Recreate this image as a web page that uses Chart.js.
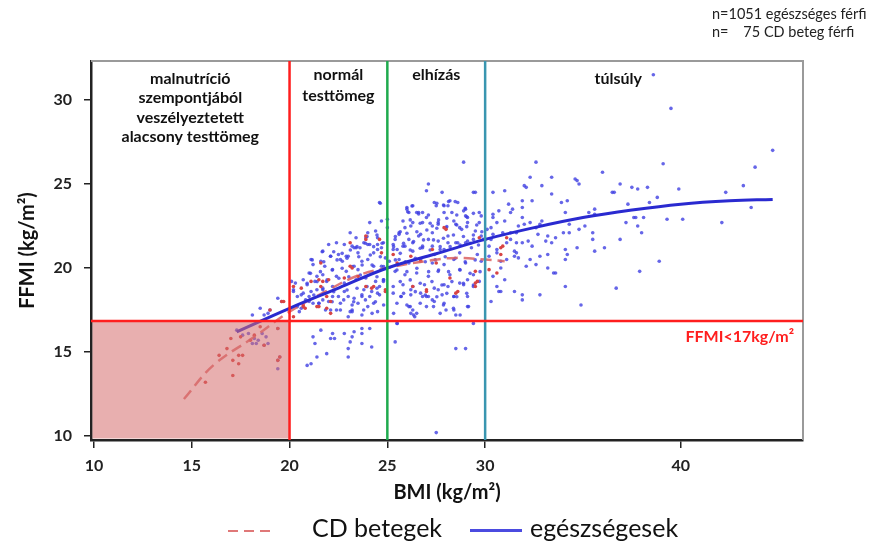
<!DOCTYPE html>
<html>
<head>
<meta charset="utf-8">
<script src="https://cdn.jsdelivr.net/npm/chart.js@4.4.1/dist/chart.umd.min.js"></script>
<style>
  html, body { margin: 0; padding: 0; background: #fff; }
  #wrap { position: relative; width: 873px; height: 549px; font-family: Lato, "Open Sans", sans-serif; color: #222; }
  #chart { position: absolute; left: 0; top: 0; }
  .note { position: absolute; left: 712px; top: 5px; font-size: 14.5px; line-height: 18px; white-space: pre; }
  .lg-line { position: absolute; height: 2px; }
  .lg-text { position: absolute; top: 512px; font-size: 25px; line-height: 30px; color: #111; }
</style>
</head>
<body>
<div id="wrap">
  <canvas id="chart" width="873" height="549"></canvas>
  <div class="note">n=1051 egészséges férfi
n=    75 CD beteg férfi</div>
  <div class="lg-line" id="lgCd" style="left:228px;top:530px;width:46px;"></div>
  <div class="lg-text" style="left:312px;">CD betegek</div>
  <div class="lg-line" id="lgHealthy" style="left:470px;top:529px;width:52px;height:3px;"></div>
  <div class="lg-text" style="left:530px;">egészségesek</div>
</div>
<script>
// ── axis ticks / cut-offs ─────────────────────────────
const X_TICKS = [10, 15, 20, 25, 30, 40];
const Y_TICKS = [10, 15, 20, 25, 30];
const BMI_CUTS = [20, 25, 30];
const FFMI_CUT = 16.85;

// ── region labels ─────────────────────────────────────
const LOW_LABEL = ['malnutríció', 'szempontjából', 'veszélyeztetett', 'alacsony testtömeg'];
const NORMAL_LABEL = ['normál', 'testtömeg'];
const OBESE_LABEL = 'elhízás';
const OVER_LABEL = 'túlsúly';
const CUT_LABEL = 'FFMI<17kg/m²';

// ── fitted curves [BMI, FFMI] ─────────────────────────
const HEALTHY_FIT = [
  [17.3, 16.2], [20, 17.6], [22.5, 18.8], [25, 20.0], [27.5, 20.85], [30, 21.7],
  [32.5, 22.4], [35, 23.0], [37.5, 23.45], [40, 23.8], [42.5, 24.0], [44.7, 24.08],
];
const CD_FIT = [
  [14.6, 12.2], [16.1, 14.2], [18.2, 15.9], [20, 17.4], [22, 18.7], [23.5, 19.55],
  [25, 20.0], [27.2, 20.45], [28.5, 20.6], [30, 20.5], [31, 20.4],
];

// ── individual measurements [BMI, FFMI] ───────────────
const CD_POINTS = [
  [16.4,14.8],[16.8,15.2],[17.1,14.5],[17.1,13.6],[17.4,14.3],[17.6,14.8],[15.7,13.2],[17.0,15.8],
  [17.5,15.9],[18.0,15.7],[18.7,15.4],[18.5,16.5],[19.4,14.5],[19.5,14.7],[19.4,16.4],[19.0,17.5],
  [19.6,18.0],[18.2,16.0],[17.4,14.8],[23.9,21.9],[23.9,21.7],[24.7,20.9],[23.2,20.0],[21.7,19.2],
  [21.9,18.3],[21.5,17.7],[22.1,18.0],[21.9,17.6],[19.7,18.0],[20.2,18.9],[20.6,18.8],[20.2,17.1],
  [20.7,17.8],[23.9,18.9],[24.3,18.9],[24.9,18.6],[26.3,18.9],[27.0,18.6],[28.0,22.3],[28.5,18.5],
  [28.2,19.4],[29.5,19.8],[29.6,19.2],[29.5,18.9],[29.7,21.8],[23.1,20.1],[21.6,20.3],[21.6,18.9],
  [21.1,19.2],[24.6,21.7],[22.8,19.4],[23.5,19.5],[25.5,20.3],[26.7,20.4],[30.2,19.9],[30.8,20.8],
  [30.9,21.3],[30.6,19.7],[30.0,21.7],[30.8,21.2],[31.1,21.8],[21.5,19.3],[22.0,19.3],[20.7,17.7],
  [22.1,17.3],[29.5,19.1],[23.1,21.5],[27.3,21.1],[27.5,20.3],[27.9,22.4],[20.8,17.6],[21.4,17.7],
  [24.9,18.7],[24.2,18.8],[27.0,18.7],[28.6,18.6],[25.3,20.8],[26.2,20.7],
];
const HEALTHY_POINTS = [
  [38.6,31.5],[39.5,29.5],[44.7,27.0],[43.8,26.0],[43.2,24.9],[42.3,24.5],[43.6,23.6],[42.1,22.7],
  [40.1,22.9],[39.3,22.9],[39.1,26.2],[39.9,24.7],[38.8,24.2],[38.4,23.9],[38.3,24.8],[37.8,24.7],
  [37.5,24.8],[36.9,25.0],[36.6,24.5],[37.3,23.8],[36.0,25.7],[37.6,23.0],[38.1,23.0],[37.2,22.7],
  [37.8,22.5],[38.0,22.1],[36.9,21.7],[38.9,20.4],[37.9,19.8],[36.7,18.8],[36.1,21.2],[35.6,21.0],
  [35.5,22.1],[35.6,23.2],[35.3,23.3],[34.7,21.2],[34.7,25.2],[34.8,25.0],[33.4,25.4],[32.6,26.3],
  [32.3,25.4],[32.1,24.8],[32.9,24.9],[34.1,18.9],[33.6,19.7],[33.2,20.0],[32.8,18.4],[31.9,18.4],
  [31.5,18.6],[31.0,19.3],[30.7,18.6],[28.9,26.3],[29.5,24.5],[34.9,17.8],[31.9,18.1],[30.3,18.0],
  [30.8,18.6],[30.6,18.9],[30.4,24.5],[31.0,24.6],[32.0,24.9],[34.6,25.3],[31.2,23.8],[31.4,23.5],
  [31.9,24.0],[32.4,24.0],[33.4,24.4],[33.9,23.9],[34.2,24.0],[34.1,23.3],[35.6,23.5],[36.5,24.5],
  [37.7,23.0],[35.5,21.7],[35.1,22.5],[34.8,22.3],[34.3,22.1],[34.0,22.1],[34.3,22.6],[34.1,21.1],
  [34.2,20.8],[34.1,20.5],[33.5,19.7],[33.2,20.8],[33.4,21.5],[33.2,21.9],[33.6,21.8],[33.1,21.6],
  [32.7,22.0],[32.8,22.6],[32.9,22.8],[32.6,22.4],[32.3,22.7],[32.2,21.6],[32.4,21.3],[32.8,20.7],
  [32.6,20.2],[32.3,20.5],[32.1,20.1],[31.9,21.5],[31.6,21.5],[31.5,21.0],[31.6,20.9],[31.5,20.7],
  [31.7,20.6],[31.1,20.5],[30.8,20.0],[30.8,20.4],[30.4,19.5],[30.2,20.7],[30.6,20.9],[30.6,21.1],
  [31.1,21.5],[31.3,21.7],[31.3,22.1],[30.9,22.1],[31.7,22.5],[32.0,22.6],[31.6,22.1],[30.6,22.7],
  [30.4,23.0],[30.7,23.4],[30.4,23.2],[31.0,22.8],[31.3,23.3],[31.9,23.0],[31.9,23.6],[30.3,22.4],
  [30.4,22.0],[30.3,21.7],[30.2,21.3],[27.5,10.2],
  [27.1,25.0],[27.0,24.6],[27.8,24.5],[29.4,24.5],[24.6,23.9],[27.4,23.9],[28.2,24.0],[28.6,23.9],
  [26.0,23.6],[26.3,23.7],[26.5,23.3],[27.9,23.7],[27.5,23.7],[28.9,23.4],[29.0,23.1],[28.3,23.3],
  [25.0,22.9],[26.1,23.3],[26.8,23.3],[27.0,23.0],[29.8,23.1],[29.7,22.7],[29.1,22.7],[28.7,22.4],
  [28.4,22.8],[28.0,22.4],[27.6,22.6],[27.3,22.1],[26.7,22.0],[26.3,22.7],[25.9,22.4],[25.6,22.0],
  [24.0,22.1],[23.9,21.8],[23.8,21.5],[23.2,21.3],[23.4,21.2],[23.6,21.2],[24.1,21.4],[24.5,21.4],
  [24.7,21.2],[21.7,21.0],[21.1,20.5],[22.1,20.7],[22.6,20.5],[22.9,20.7],[25.3,21.4],[25.5,21.1],
  [25.9,21.3],[26.3,21.5],[26.8,21.3],[27.3,21.3],[27.7,21.1],[28.1,21.5],[28.6,21.5],[29.0,21.5],
  [29.4,21.7],[29.9,21.7],[30.1,22.3],
  [20.1,19.2],[20.2,18.7],[20.4,18.3],[20.7,18.5],[20.6,17.6],[21.0,18.3],[21.2,17.9],[21.4,18.7],
  [21.7,18.7],[21.7,18.1],[22.1,17.5],[22.2,18.3],[22.6,17.9],[22.8,18.6],[23.0,18.3],[23.2,17.5],
  [23.5,17.9],[23.7,18.3],[23.8,18.7],[24.1,18.3],[24.3,17.9],[24.5,18.5],[24.6,18.9],[24.8,19.2],
  [23.7,17.2],[23.0,17.1],[25.3,18.5],[25.7,18.3],[26.0,17.8],[26.3,17.5],[26.5,17.3],[26.2,18.7],
  [26.7,18.5],[27.0,18.3],[27.3,18.1],[27.6,18.7],[28.1,18.9],[28.0,17.5],[28.4,17.5],[29.1,17.7],
  [28.4,18.3],[28.7,19.1],[29.1,19.3],[29.4,18.9],[29.7,19.2],
  [21.2,15.9],[21.3,15.5],[21.6,16.3],[22.2,16.1],[22.3,15.8],[22.8,16.1],[23.0,15.2],[23.2,15.9],
  [23.1,15.6],[23.7,16.4],[23.7,16.1],[24.1,16.4],[25.5,16.7],[25.4,15.6],[29.4,16.7],[28.5,15.2],
  [20.9,14.2],[21.1,14.3],[21.4,14.7],[21.9,14.9],[23.0,14.7],[22.1,15.8],[23.3,16.2],[23.7,15.5],
  [24.2,15.3],[29.0,15.2],
  [18.1,17.2],[18.5,17.6],[19.0,17.5],[19.4,18.2],[19.6,18.0],[18.7,17.2],[17.3,16.3],[17.6,16.0],
  [17.9,16.1],[18.2,15.8],[18.3,15.5],[18.4,15.7],[18.6,16.1],[18.8,15.9],[18.9,15.5],[18.7,15.4],
  [19.4,16.4],[19.5,14.7],[19.4,14.0],[19.4,14.5],[18.1,15.5],[18.9,17.3],
  [24.0,21.4],[24.5,21.8],[24.8,21.5],[25.0,22.4],[24.5,21.1],[24.3,20.9],[24.9,20.6],[23.3,21.2],
  [23.5,20.9],[23.0,20.7],[23.7,20.4],[24.0,20.5],[22.5,20.8],[22.7,20.4],[22.1,20.7],[21.8,20.1],
  [21.7,19.6],[22.2,19.9],[21.0,19.7],[21.4,19.5],[20.3,19.1],[20.9,19.0],[20.2,18.6],[20.6,18.4],
  [21.1,18.6],[21.7,18.8],[22.2,18.9],[22.8,19.1],[23.4,19.3],[23.9,19.4],[24.4,19.2],[24.8,19.3],
  [24.2,18.6],[24.6,18.4],[23.7,18.4],[23.3,18.2],[22.5,18.3],[22.0,18.0],[21.5,17.9],[20.4,17.7],
  [20.5,17.4],[22.4,17.5],[23.1,17.4],[24.5,17.4],[24.0,17.7],[23.2,17.8],[21.0,18.0],[21.3,19.2],
  [21.9,19.2],[22.4,19.5],[22.9,19.8],[23.3,20.1],[23.5,19.9],[24.3,20.1],[24.7,20.1],[25.1,20.4],
  [22.8,21.4],[22.4,21.5],[22.0,21.4],[21.6,20.4],[21.2,20.2],[20.7,19.3],[23.4,21.8],[23.1,22.1],
  [24.4,22.2],[24.1,22.7],[24.7,22.8],
  [26.0,23.5],[26.6,23.3],[28.1,23.7],[27.9,23.3],[29.0,23.5],[29.1,23.0],[29.7,23.3],[25.8,22.8],
  [25.6,22.1],[25.4,21.7],[26.2,22.5],[26.8,22.7],[27.3,22.5],[27.6,22.7],[28.5,22.6],[28.8,22.3],
  [29.5,22.2],[29.8,21.9],[26.1,21.7],[26.6,21.9],[27.1,21.7],[27.6,21.6],[28.1,21.9],[28.5,21.5],
  [29.1,21.6],[25.3,21.1],[25.8,21.3],[26.3,21.0],[26.8,21.2],[27.4,20.8],[27.9,21.1],[28.7,20.9],
  [29.3,21.2],[29.6,20.8],[25.6,20.5],[26.1,20.3],[26.7,20.5],[27.3,20.3],[27.9,20.2],[28.4,20.5],
  [29.0,20.3],[29.8,20.4],[25.4,19.8],[25.9,19.6],[26.5,19.7],[27.1,19.5],[27.6,19.8],[28.2,19.6],
  [28.7,19.9],[29.4,19.6],[25.3,18.9],[25.8,19.0],[26.3,18.9],[26.9,19.0],[27.4,18.8],[27.9,19.0],
  [28.9,19.0],[25.7,18.3],[26.2,18.4],[26.8,18.3],[27.1,18.3],[27.8,18.4],[28.4,18.3],[29.1,18.3],
  [26.1,17.7],[27.0,17.7],[27.4,18.0],[27.9,17.9],[26.2,17.3],[26.4,17.1],[28.5,17.2],[25.5,16.7],
  [26.26,23.69],[26.04,23.35],[26.6,23.21],[27.1,23.15],[27.53,23.85],[27.87,23.75],[28.13,23.95],
  [28.47,23.95],[28.98,23.55],[29.4,23.25],[29.06,23.05],[28.55,23.15],[28.04,22.96],[27.62,22.86],
  [27.19,22.66],[26.68,22.66],[26.17,22.86],[25.66,22.16],[25.41,21.87],[26.0,22.07],[26.51,22.16],
  [27.02,22.26],[27.53,22.36],[28.04,22.46],[28.55,22.56],[29.06,22.46],[29.57,22.56],[29.83,22.16],
  [29.4,21.96],[28.89,21.87],[28.38,21.96],[27.87,21.77],[27.36,21.67],[26.85,21.67],[26.34,21.57],
  [25.83,21.47],[25.32,21.27],[25.66,20.87],[26.17,21.07],[26.68,21.17],[27.19,21.07],[27.7,21.27],
  [28.21,21.27],[28.72,21.37],[29.23,21.47],[29.66,21.37],[25.41,20.48],[25.92,20.37],[26.43,20.58],
  [26.94,20.37],[27.45,20.48],[27.96,20.67],[28.47,20.58],[28.98,20.37],[29.49,20.48],[25.49,19.88],
  [26.0,19.78],[26.51,19.98],[27.11,19.78],[27.62,19.88],[28.13,19.78],[28.72,19.88],[29.23,19.68],
  [29.74,19.78],[25.66,19.19],[26.17,19.29],[26.68,19.09],[27.28,19.19],[27.79,18.99],[28.3,19.19],
  [28.89,19.09],[29.4,18.99],[25.83,18.49],[26.43,18.59],[26.94,18.39],[27.53,18.29],[28.04,18.49],
  [28.55,18.29],[29.06,18.49],[25.49,17.9],[26.17,17.7],[26.68,17.9],[27.36,17.7],[27.87,17.8],
  [28.38,17.6],[29.15,17.7],[25.32,17.3],[26.34,17.2],[27.7,17.3],[28.72,17.2],
  [24.64,23.85],[23.96,21.87],[23.88,21.47],[24.47,21.96],[24.73,21.47],[24.3,21.27],[23.45,21.27],
  [23.11,21.07],[22.69,20.87],[22.26,20.97],[21.67,20.97],[21.16,20.48],[21.75,20.37],[22.43,20.48],
  [22.94,20.58],[23.54,20.67],[24.13,20.77],[24.64,20.67],[24.81,20.08],[24.22,20.18],[23.71,20.18],
  [23.2,20.08],[22.69,19.98],[22.18,19.88],[21.58,19.78],[21.07,19.68],[20.9,19.09],[21.41,19.19],
  [21.92,19.29],[22.52,19.39],[23.03,19.48],[23.62,19.58],[24.47,19.48],[24.81,19.29],[24.47,18.79],
  [23.96,18.89],[23.45,18.79],[22.94,18.69],[22.26,18.59],[21.75,18.49],[21.24,18.39],[20.82,18.1],
  [21.5,17.9],[22.18,17.99],[22.77,18.1],[23.28,17.99],[23.88,18.1],[24.39,17.99],[24.81,17.8],
  [22.6,17.5],[23.2,17.4],[23.79,17.5],[24.22,17.3],[21.84,17.5],
];

// ── colours ───────────────────────────────────────────
const COLORS = {
  healthyLine: '#2a2ad0',
  healthyDot:  'rgba(64,64,226,0.8)',
  cdLine:      'rgba(218,96,96,0.85)',
  cdDot:       '#d84444',
  legendBlue:  '#4b4be0',
  red:         '#ff1e1e',
  green:       '#1faa4e',
  teal:        '#3a96b0',
  pink:        'rgba(214,110,110,0.55)',
  frame:       '#9a9a9a',
  axis:        '#222',
};
const FONT = 'Lato, "Open Sans", sans-serif';

document.getElementById('lgCd').style.background =
  `repeating-linear-gradient(90deg, ${COLORS.cdLine} 0 10px, transparent 10px 16px)`;
document.getElementById('lgHealthy').style.background = COLORS.legendBlue;

const toXY = arr => arr.map(([x, y]) => ({ x, y }));

// zones, cut-off lines, frame and region captions
const zonesPlugin = {
  id: 'zones',
  afterDatasetsDraw(chart) {
    const { ctx, chartArea: a, scales: { x, y } } = chart;
    ctx.save();
    // shaded low-BMI / low-FFMI corner
    ctx.fillStyle = COLORS.pink;
    const yCut = y.getPixelForValue(FFMI_CUT);
    ctx.fillRect(a.left + 1.5, yCut, x.getPixelForValue(BMI_CUTS[0]) - a.left - 1.5, a.bottom - 1.5 - yCut);

    // grey top + right frame
    ctx.strokeStyle = COLORS.frame;
    ctx.lineWidth = 2;
    ctx.beginPath();
    ctx.moveTo(a.left, a.top); ctx.lineTo(a.right, a.top); ctx.lineTo(a.right, a.bottom);
    ctx.stroke();

    // vertical BMI cut-offs
    const cutColors = [COLORS.red, COLORS.green, COLORS.teal];
    BMI_CUTS.forEach((v, i) => {
      const px = x.getPixelForValue(v);
      ctx.strokeStyle = cutColors[i];
      ctx.lineWidth = 2.5;
      ctx.beginPath(); ctx.moveTo(px, a.top); ctx.lineTo(px, a.bottom); ctx.stroke();
    });
    // horizontal FFMI cut-off
    ctx.strokeStyle = COLORS.red;
    ctx.beginPath(); ctx.moveTo(a.left, yCut); ctx.lineTo(a.right, yCut); ctx.stroke();

    // captions
    ctx.fillStyle = '#111';
    ctx.textAlign = 'center';
    ctx.textBaseline = 'middle';
    ctx.font = `bold 16px ${FONT}`;
    const cx = (lo, hi) => (x.getPixelForValue(lo) + x.getPixelForValue(hi)) / 2;
    LOW_LABEL.forEach((t, i) => ctx.fillText(t, (a.left + x.getPixelForValue(20)) / 2, a.top + 18 + i * 19.3));
    NORMAL_LABEL.forEach((t, i) => ctx.fillText(t, cx(20, 25), a.top + 14 + i * 20.5));
    ctx.fillText(OBESE_LABEL, cx(25, 30), a.top + 14);
    ctx.fillText(OVER_LABEL, x.getPixelForValue(36.8), a.top + 18);

    ctx.fillStyle = COLORS.red;
    ctx.textAlign = 'right';
    ctx.font = `bold 16px ${FONT}`;
    ctx.fillText(CUT_LABEL, a.right - 9, yCut + 16);
    ctx.restore();
  },
};

const tickFont = { family: FONT, size: 16, weight: 'bold' };
const titleFont = { family: FONT, size: 20, weight: 'bold' };

new Chart(document.getElementById('chart').getContext('2d'), {
  type: 'scatter',
  data: {
    datasets: [
      { type: 'line', label: 'egészségesek', data: toXY(HEALTHY_FIT), borderColor: COLORS.healthyLine,
        borderWidth: 3, pointRadius: 0, tension: 0.4, fill: false },
      { type: 'line', label: 'CD betegek', data: toXY(CD_FIT), borderColor: COLORS.cdLine,
        borderWidth: 2.5, borderDash: [11, 6], pointRadius: 0, tension: 0.4, fill: false },
      { label: 'CD', data: toXY(CD_POINTS), backgroundColor: COLORS.cdDot, borderWidth: 0, pointRadius: 1.8 },
      { label: 'egészséges', data: toXY(HEALTHY_POINTS), backgroundColor: COLORS.healthyDot, borderWidth: 0, pointRadius: 1.8 },
    ],
  },
  options: {
    responsive: false,
    animation: false,
    layout: { padding: { top: 61, right: 70, bottom: 44, left: 0 } },
    plugins: { legend: { display: false }, tooltip: { enabled: false } },
    scales: {
      x: {
        type: 'linear', min: 9.85, max: 46.25,
        afterBuildTicks: s => { s.ticks = X_TICKS.map(v => ({ value: v })); },
        afterFit: s => { s.height = 65; },
        grid: { drawOnChartArea: false, drawTicks: true, tickLength: 8, color: COLORS.axis, lineWidth: 1.5 },
        border: { color: COLORS.axis, width: 2.5 },
        ticks: { color: '#222', font: tickFont, padding: 8, maxRotation: 0 },
        title: { display: true, text: 'BMI (kg/m²)', color: '#111', font: titleFont, padding: 0 },
      },
      y: {
        type: 'linear', min: 9.76, max: 32.32,
        afterBuildTicks: s => { s.ticks = Y_TICKS.map(v => ({ value: v })); },
        afterFit: s => { s.width = 91; },
        grid: { drawOnChartArea: false, drawTicks: true, tickLength: 7, color: COLORS.axis, lineWidth: 1.5 },
        border: { color: COLORS.axis, width: 2.5 },
        ticks: { color: '#222', font: tickFont, padding: 12 },
        title: { display: true, text: 'FFMI (kg/m²)', color: '#111', font: titleFont, padding: { top: 16, bottom: 0 } },
      },
    },
  },
  plugins: [zonesPlugin],
});
</script>
</body>
</html>
